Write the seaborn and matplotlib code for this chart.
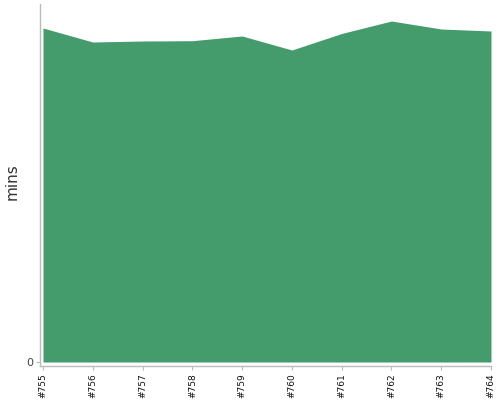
import matplotlib
matplotlib.use("Agg")
import matplotlib.pyplot as plt
import seaborn as sns
import pandas as pd

builds = ["#755", "#756", "#757", "#758", "#759", "#760", "#761", "#762", "#763", "#764"]
mins = [33.4, 32.0, 32.1, 32.13, 32.6, 31.2, 32.85, 34.1, 33.3, 33.1]

sns.set_theme(style="white")
plt.rcParams['font.family'] = ['DejaVu Sans']

df = pd.DataFrame({"build": builds, "mins": mins})
df["pos"] = range(len(df))

fig = plt.figure(figsize=(5, 4), dpi=100)
ax = fig.add_axes([0.08, 0.085, 0.902, 0.905])
sns.lineplot(data=df, x="pos", y="mins", ax=ax, color="#449c6c", linewidth=0)
ax.fill_between(df["pos"], 0, df["mins"], color="#449c6c", linewidth=0)

ax.set_xlim(-0.06, 9)
ax.set_ylim(-0.4, 35.8)
ax.set_xticks(df["pos"])
ax.set_xticklabels(df["build"], rotation=90, fontsize=6.5, color="#111111")
ax.set_yticks([0])
ax.set_yticklabels(["0"], fontsize=8, color="#444444")
ax.set_xlabel("")
ax.set_ylabel("mins", fontsize=11, color="#333333")
ax.yaxis.set_label_coords(-0.045, 0.51)
ax.tick_params(axis="both", which="both", length=3, width=0.8, color="#bbbbbb", pad=2, bottom=True, left=True)
for s in ["top", "right"]:
    ax.spines[s].set_visible(False)
for s in ["left", "bottom"]:
    ax.spines[s].set_color("#bbbbbb")
    ax.spines[s].set_linewidth(1)

fig.savefig("out.png", dpi=100)
